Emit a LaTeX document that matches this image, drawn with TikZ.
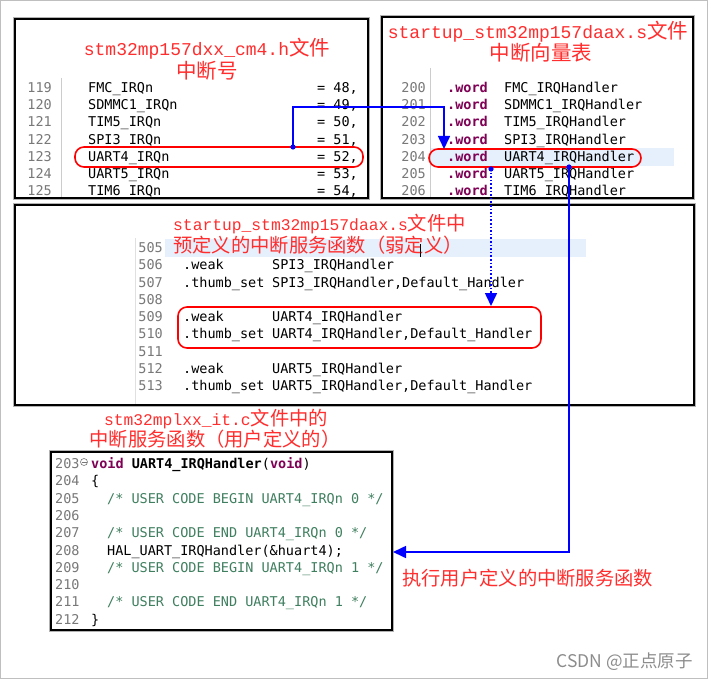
\documentclass[tikz,border=0pt]{standalone}
\usepackage{fontspec}
\setmonofont{DejaVu Sans Mono}
\newfontfamily\cjk{Noto Sans CJK SC}
\newfontfamily\ttl{Liberation Mono}
\usetikzlibrary{arrows.meta}
\definecolor{titlered}{RGB}{255,45,45}
\definecolor{kwpurple}{RGB}{127,0,85}
\definecolor{cmtgreen}{RGB}{63,127,95}
\definecolor{lnogray}{RGB}{120,120,120}
\definecolor{hlblue}{RGB}{230,240,252}
\newcommand\lat[2]{{\ttl\fontsize{#1}{#1}\selectfont #2}}
\newcommand\han[2]{{\cjk\fontsize{#1}{#1}\selectfont #2}}

\begin{document}
\begin{tikzpicture}[x = 1pt, y = -1pt, font = \ttfamily\fontsize{13.5}{14}\selectfont,
  panel/.style = {draw = black, line width = 1.8pt, fill = white},
  shadow/.style = {draw = black!30, line width = 4pt},
  redbox/.style = {draw = red, line width = 1.6pt, rounded corners = 9pt},
  link/.style = {draw = blue, line width = 1.6pt},
  tip/.style = {-{Triangle[length = 13pt, width = 12pt]}},
  lno/.style = {anchor = base east, text = lnogray, inner sep = 0pt},
  code/.style = {anchor = base west, inner sep = 0pt},
  kw/.style = {anchor = base west, inner sep = 0pt, text = kwpurple, font = \ttfamily\bfseries\fontsize{13.5}{14}\selectfont},
  cmt/.style = {anchor = base west, inner sep = 0pt, text = cmtgreen},
  title/.style = {text = titlered, inner sep = 0pt}]
\useasboundingbox (0,0) rectangle (708,679);
\draw [black!25] (0.5,0.5) rectangle (707.5,678.5);

% top left: header file
\draw [shadow] (15,19) rectangle (368,198);
\draw [panel] (15,19) rectangle (368,198);
\node [title, anchor = base] (hT1) at (207,56) {\lat{18}{stm32mp157dxx\_cm4.h}\han{20.5}{文件}};
\node [title, anchor = base] (hT2) at (207,79) {\han{20.5}{中断号}};
\draw [black!20] (61,78) -- (61,197);
\foreach \name/\val [count = \i from 0] in {FMC/48, SDMMC1/49, TIM5/50, SPI3/51, UART4/52, UART5/53, TIM6/54} {
  \pgfmathtruncatemacro\lnum{119+\i}
  \node [lno] (hl\lnum) at (52, 92.5+17.2*\i) {\lnum};
  \node [code] (hc\lnum) at (88, 92.5+17.2*\i) {\name\_IRQn};
  \node [code] (hv\lnum) at (317, 92.5+17.2*\i) {= \val,};
}
\draw [redbox] (75,147) rectangle (363,167);

% top right: vector table
\draw [shadow] (382,17) rectangle (693,198);
\draw [panel] (382,17) rectangle (693,198);
\node [title, anchor = base] (vT1) at (538,39) {\lat{18}{startup\_stm32mp157daax.s}\han{20.5}{文件}};
\node [title, anchor = base] (vT2) at (541,61) {\han{20.5}{中断向量表}};
\fill [hlblue] (430,148) rectangle (674,166);
\draw [black!20] (430,68) -- (430,197);
\foreach \name [count = \i from 0] in {FMC, SDMMC1, TIM5, SPI3, UART4, UART5, TIM6} {
  \pgfmathtruncatemacro\lnum{200+\i}
  \node [lno] (vl\lnum) at (426, 92.5+17.2*\i) {\lnum};
  \node [kw] (vw\lnum) at (447, 92.5+17.2*\i) {.word};
  \node [code] (vc\lnum) at (504, 92.5+17.2*\i) {\name\_IRQHandler};
}
\draw [redbox] (429,149) rectangle (641,167);

% middle: weak definitions
\draw [shadow] (15,205) rectangle (694,405);
\draw [panel] (15,205) rectangle (694,405);
\draw [black!12] (135,238) -- (135,404);
\fill [hlblue] (165,239) rectangle (586,257);
\node [title, anchor = base west] (wT1) at (173,230) {\lat{16.3}{startup\_stm32mp157daax.s}\han{19.3}{文件中}};
\node [title, anchor = base west] (wT2) at (173,252) {\han{19.3}{预定义的中断服务函数（弱定义）}};
\foreach \i in {0,...,8} {
  \pgfmathtruncatemacro\lnum{505+\i}
  \node [lno] (wl\lnum) at (163, 252.5+17.25*\i) {\lnum};
}
\foreach \name/\i in {SPI3/1, UART4/4, UART5/7} {
  \node [code] (wa\i) at (183, 252.5+17.25*\i) {.weak};
  \node [code] (wb\i) at (272, 252.5+17.25*\i) {\name\_IRQHandler};
  \node [code] (wc\i) at (183, 252.5+17.25*\i+17.25) {.thumb\_set};
  \node [code] (wd\i) at (272, 252.5+17.25*\i+17.25) {\name\_IRQHandler,Default\_Handler};
}
\draw [line width = 0.8pt] (420,244) -- (420,257);
\draw [redbox] (178,307) rectangle (541,348);

% bottom: user handler
\node [title, anchor = base] (uT1) at (216,425) {\lat{16.3}{stm32mplxx\_it.c}\han{19.3}{文件中的}};
\node [title, anchor = base] (uT2) at (215,446) {\han{19.3}{中断服务函数（用户定义的）}};
\draw [shadow] (51,452) rectangle (392,630);
\draw [panel] (51,452) rectangle (392,630);
\foreach \i in {0,...,9} {
  \pgfmathtruncatemacro\lnum{203+\i}
  \node [lno, anchor = base west] (ul\lnum) at (55, 468.5+17.3*\i) {\lnum};
}
\draw [lnogray, line width = 0.6pt] (84,462) circle (3.5pt);
\draw [lnogray, line width = 0.6pt] (81.5,462) -- (86.5,462);
\node [code] (uc203) at (91,468.5) {\textcolor{kwpurple}{\bfseries void} \textbf{UART4\_IRQHandler}(\textcolor{kwpurple}{\bfseries void})};
\node [code] (uc204) at (91,485.8) {\{};
\node [cmt] (uc205) at (107,503.1) {/* USER CODE BEGIN UART4\_IRQn 0 */};
\node [cmt] (uc207) at (107,537.7) {/* USER CODE END UART4\_IRQn 0 */};
\node [code] (uc208) at (107,555.0) {HAL\_UART\_IRQHandler(\&huart4);};
\node [cmt] (uc209) at (107,572.3) {/* USER CODE BEGIN UART4\_IRQn 1 */};
\node [cmt] (uc211) at (107,606.9) {/* USER CODE END UART4\_IRQn 1 */};
\node [code] (uc212) at (91,624.2) {\}};

\node [title, anchor = base west] (run) at (402,585) {\han{19.3}{执行用户定义的中断服务函数}};
\node [anchor = base east, text = black!45, inner sep = 0pt] (mark) at (693,667) {\han{17.5}{CSDN @正点原子}};

% links
\coordinate (irqDot) at (293,147);
\coordinate (irqBend) at (293,107);
\coordinate (vecTop) at (444,107);
\coordinate (vecIn) at (444,149);
\coordinate (weakDot) at (491,169);
\coordinate (weakIn) at (491,306);
\coordinate (userDot) at (569,167);
\coordinate (userBend) at (569,552);
\coordinate (userIn) at (393,552);
\draw [link, tip] (irqDot) -- (irqBend) -- (vecTop) -- (vecIn);
\draw [link, tip, dotted] (weakDot) -- (weakIn);
\draw [link, tip] (userDot) -- (userBend) -- (userIn);
\foreach \p in {irqDot, weakDot, userDot}
  \fill [blue] (\p) circle (2.6pt);
\end{tikzpicture}
\end{document}
